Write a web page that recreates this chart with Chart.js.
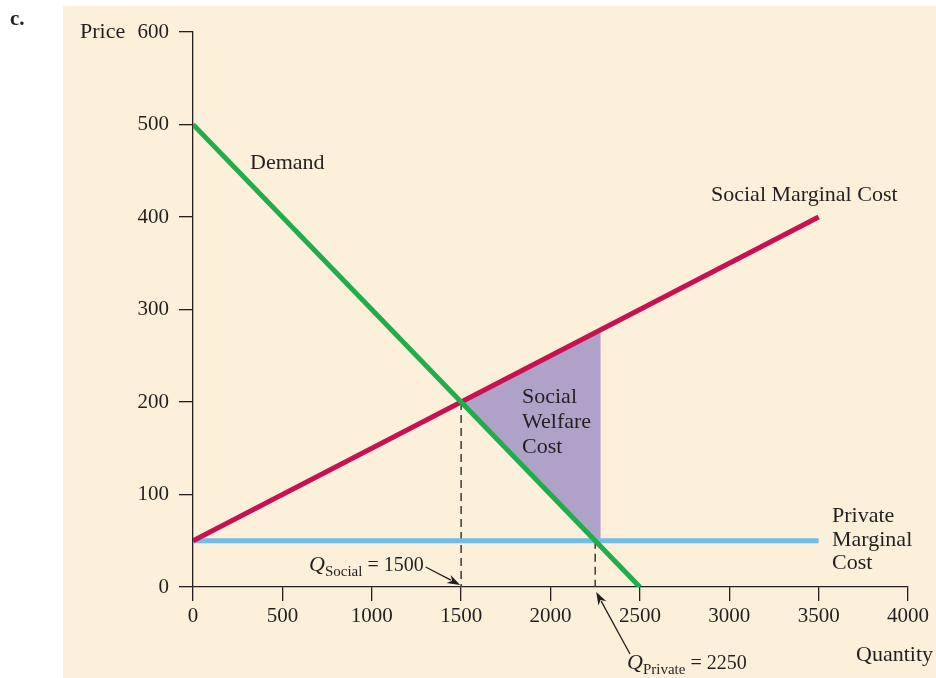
<!DOCTYPE html>
<html>
<head>
<meta charset="utf-8">
<script src="https://cdn.jsdelivr.net/npm/chart.js@4.4.1/dist/chart.umd.min.js"></script>
<style>
  html, body { margin: 0; padding: 0; background: #ffffff; }
  #wrap { position: relative; width: 936px; height: 678px; }
</style>
</head>
<body>
<div id="wrap"><canvas id="chart" width="936" height="678"></canvas></div>
<script>
// ---- data ----
const demandQ = [0, 2500];
const demandP = [500, 0];
const smcQ = [0, 3500];
const smcP = [50, 400];
const pmcQ = [0, 3500];
const pmcP = [50, 50];
const welfareQ = [1500, 2280, 2280, 2250, 1500];
const welfareP = [200, 278, 50, 50, 200];
const qSocial = 1500;
const pSocial = 200;
const qPrivate = 2250;
const pPrivate = 50;
const xTicks = [0, 500, 1000, 1500, 2000, 2500, 3000, 3500, 4000];
const yTicks = [0, 100, 200, 300, 400, 500, 600];

const INK = '#231f20';
const SERIF = '"Liberation Serif", "DejaVu Serif", serif';
const LABEL_FONT = '22px ' + SERIF;

function pts(xs, ys) {
    return xs.map((x, i) => ({ x: x, y: ys[i] }));
}

const backdrop = {
    id: 'backdrop',
    beforeDraw(chart) {
        const ctx = chart.ctx;
        ctx.save();
        ctx.fillStyle = '#ffffff';
        ctx.fillRect(0, 0, chart.width, chart.height);
        ctx.fillStyle = '#fdf0db';
        ctx.fillRect(63, 6, chart.width - 63, chart.height - 6);
        ctx.restore();
    }
};

function arrow(ctx, x1, y1, x2, y2) {
    const a = Math.atan2(y2 - y1, x2 - x1);
    const len = 13, half = 4.5;
    ctx.beginPath();
    ctx.moveTo(x1, y1);
    ctx.lineTo(x2 - Math.cos(a) * len * 0.8, y2 - Math.sin(a) * len * 0.8);
    ctx.stroke();
    ctx.beginPath();
    ctx.moveTo(x2, y2);
    ctx.lineTo(x2 - Math.cos(a) * len - Math.sin(a) * half, y2 - Math.sin(a) * len + Math.cos(a) * half);
    ctx.lineTo(x2 - Math.cos(a) * len * 0.7, y2 - Math.sin(a) * len * 0.7);
    ctx.lineTo(x2 - Math.cos(a) * len + Math.sin(a) * half, y2 - Math.sin(a) * len - Math.cos(a) * half);
    ctx.closePath();
    ctx.fill();
}

function subLabel(ctx, x, y, sub, rest) {
    ctx.textAlign = 'left';
    ctx.font = 'italic 22px ' + SERIF;
    ctx.fillText('Q', x, y);
    let w = ctx.measureText('Q').width;
    ctx.font = '15px ' + SERIF;
    ctx.fillText(sub, x + w, y + 5);
    w += ctx.measureText(sub).width;
    ctx.font = '20px ' + SERIF;
    ctx.fillText(rest, x + w, y);
    return x + w + ctx.measureText(rest).width;
}

const annotations = {
    id: 'annotations',
    afterDraw(chart) {
        const ctx = chart.ctx;
        const xs = chart.scales.x, ys = chart.scales.y;
        ctx.save();
        ctx.fillStyle = INK;
        ctx.strokeStyle = INK;
        ctx.lineWidth = 1.3;
        ctx.textBaseline = 'alphabetic';

        ctx.font = 'bold 21px ' + SERIF;
        ctx.fillText('c.', 10, 25);

        ctx.font = LABEL_FONT;
        ctx.textAlign = 'left';
        ctx.fillText('Price', 80, 38);
        ctx.fillText('Demand', 250, 169);
        ctx.fillText('Social Marginal Cost', 711, 201);
        ['Social', 'Welfare', 'Cost'].forEach((t, i) => ctx.fillText(t, 522, 403 + i * 25));
        ['Private', 'Marginal', 'Cost'].forEach((t, i) => ctx.fillText(t, 832, 522 + i * 23.5));
        ctx.textAlign = 'right';
        ctx.fillText('Quantity', 933, 661);

        const x0 = ys.getPixelForValue(0);
        const endS = subLabel(ctx, 309, 571, 'Social', ' = 1500');
        arrow(ctx, endS + 2, 567, xs.getPixelForValue(qSocial) - 1, x0 - 2);
        subLabel(ctx, 627, 669, 'Private', ' = 2250');
        arrow(ctx, 630, 654, xs.getPixelForValue(qPrivate) + 1, x0 + 5);
        ctx.restore();
    }
};

const lineBase = { showLine: true, pointRadius: 0, pointHoverRadius: 0, fill: false, tension: 0 };

new Chart(document.getElementById('chart'), {
    type: 'scatter',
    data: {
        datasets: [
            Object.assign({}, lineBase, { label: 'Demand', data: pts(demandQ, demandP), borderColor: '#21ad4b', borderWidth: 5 }),
            Object.assign({}, lineBase, { label: 'Social Marginal Cost', data: pts(smcQ, smcP), borderColor: '#c8114f', borderWidth: 5 }),
            Object.assign({}, lineBase, { label: 'Private Marginal Cost', data: pts(pmcQ, pmcP), borderColor: '#72bde6', borderWidth: 5 }),
            Object.assign({}, lineBase, { label: 'Q social', data: pts([qSocial, qSocial], [pSocial, 0]), borderColor: '#3e3838', borderWidth: 1.5, borderDash: [8, 5] }),
            Object.assign({}, lineBase, { label: 'Q private', data: pts([qPrivate, qPrivate], [pPrivate, 0]), borderColor: '#3e3838', borderWidth: 1.5, borderDash: [8, 5] }),
            Object.assign({}, lineBase, { label: 'Social Welfare Cost', data: pts(welfareQ, welfareP), borderWidth: 0, borderColor: 'rgba(0,0,0,0)', backgroundColor: '#b0a1c9', fill: 'shape' })
        ]
    },
    options: {
        responsive: false,
        animation: false,
        events: [],
        layout: { padding: { top: 32, right: 28, left: 0, bottom: 0 } },
        plugins: { legend: { display: false }, tooltip: { enabled: false } },
        scales: {
            x: {
                type: 'linear', min: 0, max: 4000,
                afterFit: s => { s.height = 91; },
                afterBuildTicks: s => { s.ticks = xTicks.map(v => ({ value: v })); },
                ticks: { color: INK, padding: 3, font: { family: SERIF, size: 21 }, callback: v => String(v) },
                grid: { drawOnChartArea: false, tickLength: 14, color: INK, lineWidth: 1.3 },
                border: { color: INK, width: 1.3 }
            },
            y: {
                type: 'linear', min: 0, max: 600,
                afterFit: s => { s.width = 193; },
                afterBuildTicks: s => { s.ticks = yTicks.map(v => ({ value: v })); },
                ticks: { color: INK, padding: 10, font: { family: SERIF, size: 21 }, callback: v => String(v) },
                grid: { drawOnChartArea: false, tickLength: 14, color: INK, lineWidth: 1.3 },
                border: { color: INK, width: 1.3 }
            }
        }
    },
    plugins: [backdrop, annotations]
});
</script>
</body>
</html>
